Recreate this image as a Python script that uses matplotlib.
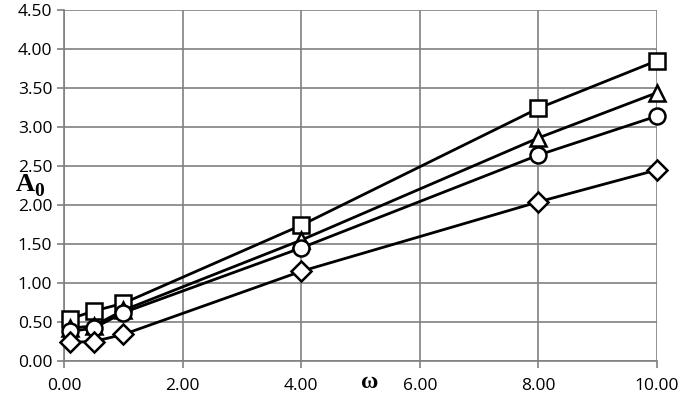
import matplotlib.pyplot as plt
import numpy as np

omega = [0.1, 0.5, 1.0, 4.0, 8.0, 10.0]
a_square = [0.54, 0.64, 0.74, 1.74, 3.24, 3.85]
a_triangle = [0.42, 0.45, 0.65, 1.55, 2.86, 3.44]
a_circle = [0.38, 0.42, 0.62, 1.45, 2.64, 3.14]
a_diamond = [0.24, 0.25, 0.34, 1.15, 2.04, 2.45]

xticks = np.arange(0, 10.01, 2)
yticks = np.arange(0, 4.51, 0.5)

fig = plt.figure(figsize=(6.85, 4.01), dpi=100)
ax = fig.add_axes([64 / 685, 1 - 361 / 401, 593 / 685, 351 / 401])

series = [(a_square, 's'), (a_triangle, '^'), (a_circle, 'o'), (a_diamond, 'D')]
for vals, m in series:
    ms = 10 if m == 'D' else 11.5
    ax.plot(omega, vals, color='black', lw=2, marker=m, ms=ms,
            mfc='white', mec='black', mew=1.8, zorder=3, clip_on=False)

ax.set_xlim(0, 10)
ax.set_ylim(0, 4.5)
ax.set_xticks(xticks)
ax.set_yticks(yticks)
ax.set_xticklabels(['%.2f' % v for v in xticks])
ax.set_yticklabels(['%.2f' % v for v in yticks])
ax.grid(True, color='#808080', lw=1.2)
ax.set_axisbelow(True)
for s in ['top', 'right']:
    ax.spines[s].set_visible(False)
for s in ['left', 'bottom']:
    ax.spines[s].set_color('#808080')
    ax.spines[s].set_linewidth(1.2)
ax.tick_params(colors='#808080', labelcolor='black', labelsize=12.5,
               direction='out', length=5, width=1.2)
ax.tick_params(axis='x', pad=7)
for lab in ax.get_xticklabels() + ax.get_yticklabels():
    lab.set_family('Open Sans')

fig.text(25 / 685, 1 - 184 / 401, 'A', fontsize=19, fontweight='bold',
         family='Liberation Serif', ha='center', va='center')
fig.text(39 / 685, 1 - 192 / 401, '0', fontsize=14, fontweight='bold',
         family='Liberation Serif', ha='center', va='center')
fig.text(370 / 685, 1 - 382 / 401, 'ω', fontsize=17, fontweight='bold',
         family='Liberation Serif', ha='center', va='center')

fig.savefig('out.png', dpi=100)
